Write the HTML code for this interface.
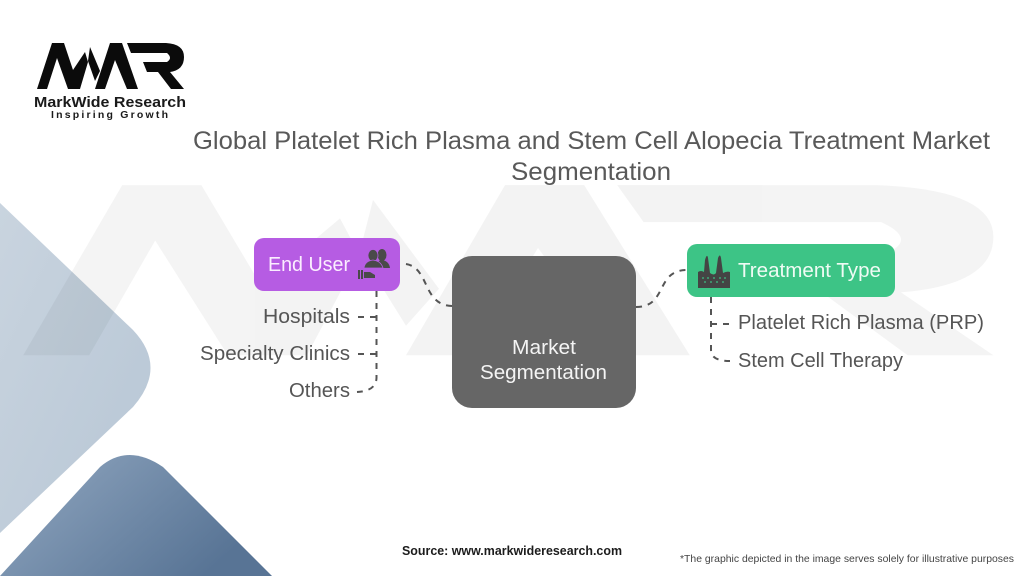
<!DOCTYPE html>
<html lang="en"><head><meta charset="utf-8"><title>Market Segmentation</title>
<style>html,body{margin:0;padding:0;background:#fff;width:1024px;height:576px;overflow:hidden}svg{display:block}text{font-family:"Liberation Sans",sans-serif}</style></head>
<body>
<svg width="1024" height="576" viewBox="0 0 1024 576" xmlns="http://www.w3.org/2000/svg">
<defs>
<linearGradient id="a" x1="0" y1="0" x2="1" y2="1"><stop offset="0" stop-color="#c9d4df"/><stop offset="1" stop-color="#b7c6d5"/></linearGradient>
<linearGradient id="b" x1="0" y1="0" x2="1" y2="0.5"><stop offset="0" stop-color="#92a8c1"/><stop offset="1" stop-color="#587495"/></linearGradient>
<g id="logo">
<path d="M37 89 L52 43 H64 L73 70 L85 52 L88 62 L80 89 H68 L57 58 L47 89Z"/>
<path d="M90 47 L100 71 L95 81 L88 61Z"/>
<path d="M95 89 L110 43 H122 L138 89 H127 L115 60 L105 89Z"/>
<path d="M127 43 H166 Q184 44 184 57 Q184 70 170 72 L184 89 H171 L158 72 H147 L143 62 H167 Q173 58 167 53 H131Z"/>
</g>
</defs>
<rect width="1024" height="576" fill="#fff"/>
<path d="M0 203 L133 330 Q168 367 133 407 L0 533Z" fill="url(#a)"/>
<path d="M0 576 L100 467 Q128 443 163 467 L272 576Z" fill="url(#b)"/>
<g transform="translate(-221 26) scale(6.6 3.7)" fill="#000" opacity=".045"><use href="#logo"/></g>
<g fill="#0b0b0b"><use href="#logo"/></g>
<text x="34" y="107" font-size="14.5" font-weight="700" fill="#1a1a1a" textLength="152" lengthAdjust="spacingAndGlyphs">MarkWide Research</text>
<text x="51" y="118" font-size="10.5" font-weight="700" fill="#1a1a1a" textLength="117" lengthAdjust="spacing">Inspiring Growth</text>
<text x="193" y="149" font-size="25" fill="#595959" textLength="797" lengthAdjust="spacingAndGlyphs">Global Platelet Rich Plasma and Stem Cell Alopecia Treatment Market</text>
<text x="511" y="180" font-size="25" fill="#595959" textLength="160" lengthAdjust="spacingAndGlyphs">Segmentation</text>
<g fill="none" stroke="#555" stroke-width="2" stroke-dasharray="6 6">
<path d="M406 264 C430 268 422 305 452 306"/>
<path d="M636 307 C668 307 655 270 687 270"/>
<path d="M376.500 291 V378 Q376 391 357 392"/>
<path d="M358 317 H376"/>
<path d="M358 354 H376"/>
<path d="M711 297 V350 Q711 361 730 361"/>
<path d="M711 324 H730"/>
</g>
<rect x="254" y="238" width="146" height="53" rx="10" fill="#b65ce3"/>
<rect x="687" y="244" width="208" height="53" rx="10" fill="#3dc486"/>
<rect x="452" y="256" width="184" height="152" rx="20" fill="#666"/>
<text x="268" y="271" font-size="20" fill="#fbeeff" textLength="82" lengthAdjust="spacingAndGlyphs">End User</text>
<text x="738" y="277" font-size="20" fill="#effbf4" textLength="143" lengthAdjust="spacingAndGlyphs">Treatment Type</text>
<text x="512" y="354" font-size="20" fill="#f4f4f4" textLength="64" lengthAdjust="spacingAndGlyphs">Market</text>
<text x="480" y="379" font-size="20" fill="#f4f4f4" textLength="127" lengthAdjust="spacingAndGlyphs">Segmentation</text>
<g font-size="20" fill="#555">
<text x="263" y="323" textLength="87" lengthAdjust="spacingAndGlyphs">Hospitals</text>
<text x="200" y="360" textLength="150" lengthAdjust="spacingAndGlyphs">Specialty Clinics</text>
<text x="289" y="397" textLength="61" lengthAdjust="spacingAndGlyphs">Others</text>
<text x="738" y="329" textLength="246" lengthAdjust="spacingAndGlyphs">Platelet Rich Plasma (PRP)</text>
<text x="738" y="367" textLength="165" lengthAdjust="spacingAndGlyphs">Stem Cell Therapy</text>
</g>
<g fill="#4a4a4a">
<ellipse cx="382" cy="255" rx="4.500" ry="6"/><path d="M376 268 Q377 260 382 260 Q389 261 390 268Z"/>
<g stroke="#b65ce3" stroke-width=".8"><ellipse cx="373" cy="255.500" rx="5" ry="6"/><path d="M364 268 Q365 261 373 260 Q381 261 383 268Z"/></g>
<rect x="358" y="270" width="2" height="9"/><rect x="361" y="270" width="2" height="9"/><path d="M364 272 H370 L375 275 V278 H364Z"/>
</g>
<path d="M698 288 V272 Q701 270 704 272 L705 260 Q707 253 708 258 L710 273 Q714 276 716 273 L718 258 Q720 253 721 258 L723 273 Q727 271 730 272 V288Z" fill="#444"/>
<g fill="#3dc486"><circle cx="703" cy="278" r=".9"/><circle cx="708" cy="278" r=".9"/><circle cx="714" cy="278" r=".9"/><circle cx="720" cy="278" r=".9"/><circle cx="725" cy="278" r=".9"/><circle cx="705" cy="282" r=".9"/><circle cx="711" cy="282" r=".9"/><circle cx="717" cy="282" r=".9"/><circle cx="723" cy="282" r=".9"/></g>
<text x="402" y="555" font-size="12.500" font-weight="700" fill="#1c1c1c" textLength="220" lengthAdjust="spacingAndGlyphs">Source: www.markwideresearch.com</text>
<text x="680" y="562" font-size="10.500" fill="#444" textLength="334" lengthAdjust="spacingAndGlyphs">*The graphic depicted in the image serves solely for illustrative purposes</text>
</svg>
</body></html>
